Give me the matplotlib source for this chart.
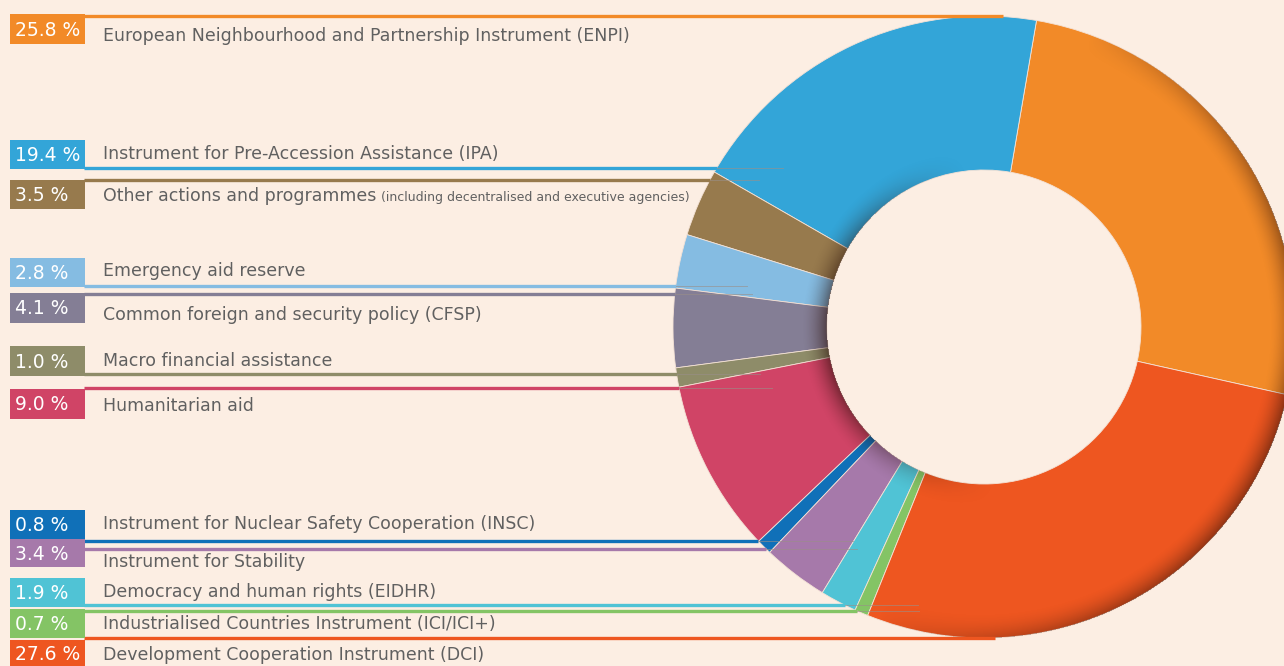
import matplotlib
matplotlib.use("Agg")
import matplotlib.pyplot as plt
import numpy as np
from matplotlib.patches import Rectangle

# ---------------- data ----------------
categories = [
    "European Neighbourhood and Partnership Instrument (ENPI)",
    "Instrument for Pre-Accession Assistance (IPA)",
    "Other actions and programmes",
    "Emergency aid reserve",
    "Common foreign and security policy (CFSP)",
    "Macro financial assistance",
    "Humanitarian aid",
    "Instrument for Nuclear Safety Cooperation (INSC)",
    "Instrument for Stability",
    "Democracy and human rights (EIDHR)",
    "Industrialised Countries Instrument (ICI/ICI+)",
    "Development Cooperation Instrument (DCI)",
]
other_note = "(including decentralised and executive agencies)"
values = [25.8, 19.4, 3.5, 2.8, 4.1, 1.0, 9.0, 0.8, 3.4, 1.9, 0.7, 27.6]
pct_labels = ["%.1f %%" % v for v in values]
colors = ["#F28A28", "#33A5D8", "#977A4D", "#85BCE2", "#847E95", "#8E8C69",
          "#D04466", "#1070B8", "#A679AA", "#50C3D5", "#84C465", "#EE5620"]

# ---------------- layout (pixels) ----------------
W, H = 1284, 666
BG = "#FCEEE3"
TXT = "#606060"
cx, cy, R, r_in = 984, 327, 311, 157
box_top = [14, 140, 180, 258, 293, 346, 389, 510, 539, 578, 609, 640]
box_h = [30, 29, 29, 29, 30, 30, 30, 29, 28, 29, 29, 27]
text_y = [36, 154, 196, 271, 315, 361, 406, 524, 562, 592, 624, 655]
line_y = [16, 168, 180, 286, 294, 374, 388, 541, 549, 605, 611, 638]
line_end = [1003, 783, 759, 747, 752, 760, 772, 853, 857, 918, 919, 995]

fig = plt.figure(figsize=(W / 100, H / 100), dpi=100, facecolor=BG)
ax = fig.add_axes([0, 0, 1, 1])
ax.set_facecolor(BG)

# donut (y axis inverted -> counterclock=False gives visual counter-clockwise)
ax.pie(values, colors=colors, startangle=12.6, counterclock=False,
       center=(cx, cy), radius=R,
       wedgeprops=dict(width=R - r_in, edgecolor="#F4E2D6", linewidth=0.6))

# soft 3D shading over the ring
yy, xx = np.mgrid[0:H, 0:W] + 0.5
dx, dy = xx - cx, -(yy - cy)
rho = np.hypot(dx, dy)
phi = np.degrees(np.arctan2(dy, dx))
ring = (rho >= r_in) & (rho <= R)
inner_w = 26.0
inner_f = np.clip(1 - (rho - r_in) / inner_w, 0, 1) ** 1.8
inner_a = 0.55 * np.clip(np.cos(np.radians(phi - 185)), 0, 1) ** 1.5 * inner_f
outer_w = 26.0
outer_f = np.clip(1 - (R - rho) / outer_w, 0, 1) ** 1.8
outer_a = 0.5 * np.clip(np.cos(np.radians(phi + 20)), 0, 1) ** 0.8 * outer_f
alpha = np.where(ring, np.clip(inner_a + outer_a, 0, 0.7), 0)
shade = np.zeros((H, W, 4))
shade[..., 0] = 0.15
shade[..., 1] = 0.05
shade[..., 2] = 0.02
shade[..., 3] = alpha
ax.imshow(shade, extent=(0, W, H, 0), origin="upper", zorder=3,
          interpolation="bilinear")

ax.set_xlim(0, W)
ax.set_ylim(H, 0)
ax.set_aspect("auto")
ax.axis("off")

# labels, boxes and leader lines
for i, name in enumerate(categories):
    ax.add_patch(Rectangle((10, box_top[i]), 75, box_h[i], facecolor=colors[i],
                           edgecolor="none", zorder=5))
    ax.text(15, box_top[i] + box_h[i] / 2 + 1, pct_labels[i], color="white",
            fontsize=13.5, va="center", ha="left", zorder=6)
    ax.text(103, text_y[i], name, color=TXT, fontsize=12.5, va="center",
            ha="left", zorder=6)
    ly = line_y[i]
    d = ly - cy
    if abs(d) < R - 3:
        edge = cx - np.sqrt(R ** 2 - d ** 2)
    else:
        edge = line_end[i]
    edge = min(edge, line_end[i])
    ax.plot([84, edge], [ly, ly], color=colors[i], lw=2.4,
            solid_capstyle="butt", zorder=4)
    if edge < line_end[i]:
        ax.plot([edge, line_end[i]], [ly, ly], color="#9a8f88", lw=0.7,
                alpha=0.6, zorder=4)

# small note after "Other actions and programmes"
fig.canvas.draw()
ren = fig.canvas.get_renderer()
main = [t for t in ax.texts if t.get_text() == categories[2]][0]
bb = main.get_window_extent(ren)
x_end = ax.transData.inverted().transform((bb.x1, bb.y0))[0]
ax.text(x_end + 5, text_y[2] + 2, other_note, color=TXT, fontsize=9,
        va="center", ha="left", zorder=6)

ax.set_xlim(0, W)
ax.set_ylim(H, 0)
fig.savefig("out.png", dpi=100, facecolor=BG)
